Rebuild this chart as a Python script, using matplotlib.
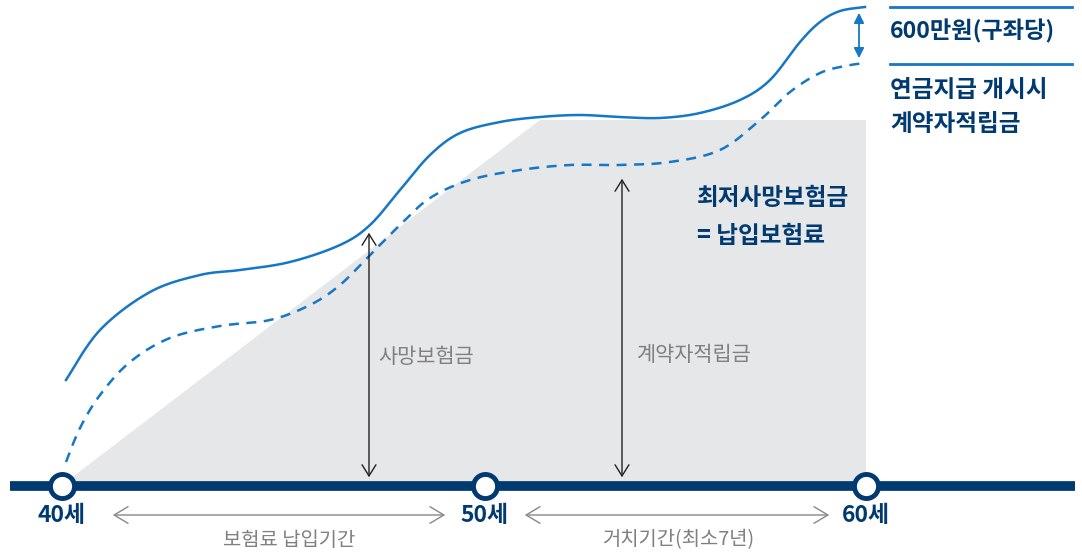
import numpy as np
import matplotlib
matplotlib.use("Agg")
import matplotlib.pyplot as plt
from matplotlib.patches import Polygon, FancyArrowPatch

plt.rcParams['font.family'] = ['Noto Sans CJK KR', 'DejaVu Sans']

# 좌표는 그림 픽셀 기준 (y는 아래로 증가)
solid_x = [66, 100, 150, 200, 240, 290, 340, 370, 400, 430, 460, 500, 540, 580, 620, 660, 700, 740, 770, 800, 820, 840, 865]
solid_y = [380, 330, 292, 275, 270, 262, 245, 225, 190, 155, 133, 122, 117, 115, 117, 118, 113, 100, 80, 42, 22, 11, 7]

dash_x = [66, 80, 100, 130, 170, 220, 270, 310, 340, 370, 400, 430, 470, 520, 570, 620, 670, 720, 760, 790, 820, 845, 865]
dash_y = [462, 428, 395, 362, 338, 326, 320, 305, 285, 255, 225, 198, 180, 170, 165, 165, 162, 150, 120, 92, 73, 66, 63]

area_x = [62, 540, 866, 866]
area_y = [485, 120, 120, 485]

ages = ['40세', '50세', '60세']
age_x = [62, 485, 866]

NAVY = '#003A70'
BLUE = '#1677C7'
GRAY = '#E6E7E9'
TXT_GRAY = '#808080'


def smooth(xs, ys, n=20):
    # Catmull-Rom 곡선
    p = np.column_stack([xs, ys]).astype(float)
    p = np.vstack([p[0], p, p[-1]])
    out = []
    for i in range(1, len(p) - 2):
        p0, p1, p2, p3 = p[i - 1], p[i], p[i + 1], p[i + 2]
        for t in np.linspace(0, 1, n, endpoint=False):
            t2, t3 = t * t, t * t * t
            out.append(0.5 * ((2 * p1) + (-p0 + p2) * t +
                              (2 * p0 - 5 * p1 + 4 * p2 - p3) * t2 +
                              (-p0 + 3 * p1 - 3 * p2 + p3) * t3))
    out.append(p[-2])
    out = np.array(out)
    return out[:, 0], out[:, 1]


fig = plt.figure(figsize=(10.82, 5.54), dpi=100)
ax = fig.add_axes([0, 0, 1, 1])
ax.set_xlim(0, 1082)
ax.set_ylim(554, 0)
ax.axis('off')

ax.add_patch(Polygon(np.column_stack([area_x, area_y]), closed=True,
                     facecolor=GRAY, edgecolor='none', zorder=1))

sx, sy = smooth(solid_x, solid_y)
ax.plot(sx, sy, color=BLUE, lw=1.8, zorder=3)
dx, dy = smooth(dash_x, dash_y)
ax.plot(dx, dy, color=BLUE, lw=1.8, ls=(0, (4, 3)), zorder=3)

# 기준선
ax.plot([10, 1075], [486, 486], color=NAVY, lw=7, solid_capstyle='butt', zorder=4)
ax.scatter(age_x, [486] * 3, s=300, facecolor='white', edgecolor=NAVY,
           linewidths=3.5, zorder=5)
for x, t in zip(age_x, ages):
    ax.text(x, 516, t, ha='center', va='center', fontsize=16.5,
            fontweight='bold', color=NAVY)

# 세로 화살표
for x, y0 in [(369, 230), (622, 176)]:
    ax.add_patch(FancyArrowPatch((x, 480), (x, y0), arrowstyle='<->,head_length=8,head_width=5',
                                 color='#222222', lw=1, zorder=3))
ax.text(426, 357, '사망보험금', ha='center', va='center', fontsize=15, color=TXT_GRAY)
ax.text(694, 355, '계약자적립금', ha='center', va='center', fontsize=15, color=TXT_GRAY)

# 가로 화살표
for x0, x1 in [(110, 448), (522, 832)]:
    ax.add_patch(FancyArrowPatch((x0, 515), (x1, 515), arrowstyle='<->,head_length=10,head_width=6',
                                 color='#888888', lw=1, zorder=3))
ax.text(289, 540, '보험료 납입기간', ha='center', va='center', fontsize=14.3, color=TXT_GRAY)
ax.text(678, 540, '거치기간(최소7년)', ha='center', va='center', fontsize=14.3, color=TXT_GRAY)

ax.text(697, 198, '최저사망보험금', ha='left', va='center', fontsize=17,
        fontweight='bold', color=NAVY)
ax.text(697, 236, '= 납입보험료', ha='left', va='center', fontsize=17,
        fontweight='bold', color=NAVY)

# 오른쪽 범례
ax.plot([890, 1072], [7, 7], color=BLUE, lw=2)
ax.plot([890, 1072], [64, 64], color=BLUE, lw=2)
ax.add_patch(FancyArrowPatch((859, 10), (859, 61), arrowstyle='<|-|>,head_length=6,head_width=3',
                             color=BLUE, lw=1.3, zorder=3))
ax.text(890, 31, '600만원(구좌당)', ha='left', va='center', fontsize=16.7,
        fontweight='bold', color=NAVY)
ax.text(890, 90, '연금지급 개시시', ha='left', va='center', fontsize=17,
        fontweight='bold', color=NAVY)
ax.text(890, 124, '계약자적립금', ha='left', va='center', fontsize=17,
        fontweight='bold', color=NAVY)

fig.savefig('out.png', dpi=100)
